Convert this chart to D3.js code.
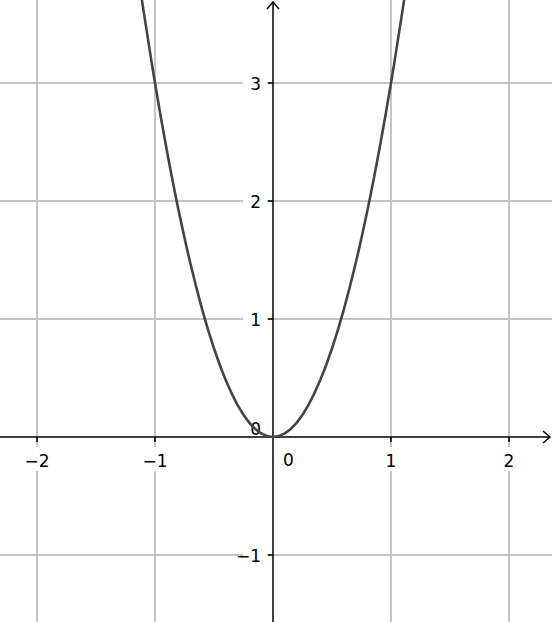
<!DOCTYPE html>
<html><head><meta charset="utf-8">
<script src="https://cdn.jsdelivr.net/npm/d3@7"></script>
<style>html,body{margin:0;padding:0;background:#fff;}svg{display:block;}</style>
</head><body>
<svg id="chart" width="552" height="622"></svg>
<script>
// Data
const curveX = [-1.15,-1.1,-1.0,-0.9,-0.8,-0.7,-0.6,-0.5,-0.4,-0.3,-0.2,-0.1,0,0.1,0.2,0.3,0.4,0.5,0.6,0.7,0.8,0.9,1.0,1.1,1.15];
const curveY = [3.97,3.63,3.00,2.43,1.92,1.47,1.08,0.75,0.48,0.27,0.12,0.03,0,0.03,0.12,0.27,0.48,0.75,1.08,1.47,1.92,2.43,3.00,3.63,3.97];
const xTicks = [-2,-1,0,1,2];
const yTicks = [-1,0,1,2,3];
const xTickLabels = ["\u22122","\u22121","0","1","2"];
const yTickLabels = ["\u22121","0","1","2","3"];

const W = 552, H = 622;
const svg = d3.select("#chart");
const x = d3.scaleLinear().domain([-2.3136, 2.3644]).range([0, W]);
const y = d3.scaleLinear().domain([-1.5678, 3.7034]).range([H, 0]);
const x0 = x(0), y0 = y(0);

// grid
const grid = svg.append("g");
grid.selectAll("line.gx").data(xTicks.filter(d=>d!==0)).join("line")
  .attr("x1",d=>x(d)).attr("x2",d=>x(d)).attr("y1",0).attr("y2",H)
  .attr("stroke","#c4c4c4").attr("stroke-width",2);
grid.selectAll("line.gy").data(yTicks.filter(d=>d!==0)).join("line")
  .attr("y1",d=>y(d)).attr("y2",d=>y(d)).attr("x1",0).attr("x2",W)
  .attr("stroke","#c4c4c4").attr("stroke-width",2);

const font = "'DejaVu Sans', sans-serif";
const fs = 17;

// label backgrounds (white) to break grid lines
const lab = svg.append("g");
xTicks.forEach((d,i)=>{
  if (d===0) return;
  lab.append("rect").attr("x",x(d)-12).attr("y",y0+10).attr("width",24).attr("height",24).attr("fill","#fff");
});
yTicks.forEach((d,i)=>{
  if (d===0) return;
  lab.append("rect").attr("x",x0-30).attr("y",y(d)-11).attr("width",24).attr("height",23).attr("fill","#fff");
});

// axes
const ax = svg.append("g").attr("stroke","#000").attr("stroke-width",1.5).attr("fill","none");
ax.append("line").attr("x1",0).attr("x2",W-2).attr("y1",y0).attr("y2",y0);
ax.append("line").attr("x1",x0).attr("x2",x0).attr("y1",H).attr("y2",2);
// arrows
ax.append("path").attr("d",`M${W-9},${y0-6}L${W-2},${y0}L${W-9},${y0+6}`);
ax.append("path").attr("d",`M${x0-6},${9}L${x0},${2}L${x0+6},${9}`);
// ticks
xTicks.filter(d=>d!==0).forEach(d=>{
  ax.append("line").attr("x1",x(d)).attr("x2",x(d)).attr("y1",y0).attr("y2",y0+5);
});
yTicks.filter(d=>d!==0).forEach(d=>{
  ax.append("line").attr("x1",x0-5).attr("x2",x0).attr("y1",y(d)).attr("y2",y(d));
});

// tick labels
xTicks.forEach((d,i)=>{
  const t = lab.append("text").attr("font-family",font).attr("font-size",fs).attr("fill","#000")
    .text(xTickLabels[i]);
  if (d===0) t.attr("x",x0+10).attr("y",y0+29).attr("text-anchor","start");
  else t.attr("x",x(d)).attr("y",y0+30).attr("text-anchor","middle");
});
yTicks.forEach((d,i)=>{
  const t = lab.append("text").attr("font-family",font).attr("font-size",fs).attr("fill","#000")
    .attr("text-anchor","end").text(yTickLabels[i]);
  if (d===0) t.attr("x",x0-12).attr("y",y0-2);
  else t.attr("x",x0-12).attr("y",y(d)+7);
});

// curve
const line = d3.line().x((d,i)=>x(curveX[i])).y((d,i)=>y(curveY[i])).curve(d3.curveNatural);
svg.append("path").datum(curveX).attr("d",line)
  .attr("fill","none").attr("stroke","#444").attr("stroke-width",2.6);
</script>
</body></html>
